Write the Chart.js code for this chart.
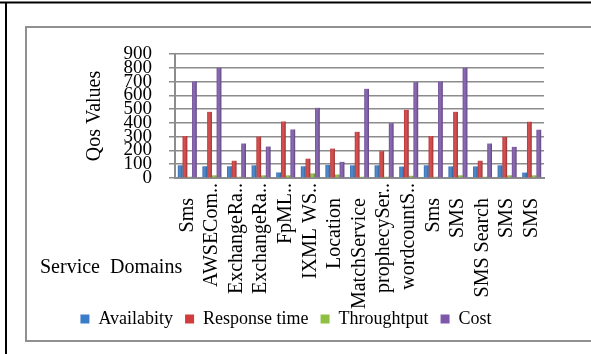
<!DOCTYPE html>
<html>
<head>
<meta charset="utf-8">
<script src="https://cdn.jsdelivr.net/npm/chart.js@4.4.1/dist/chart.umd.min.js"></script>
<style>
  html, body { margin: 0; padding: 0; background: #fff; }
</style>
</head>
<body>
<canvas id="QOSCHART" width="591" height="354"></canvas>
<script>
// categories and series
var domains = ['Sms', 'AWSECom..', 'ExchangeRa..', 'ExchangeRa..', 'FpML..', 'IXML WS..', 'Location',
    'MatchService', 'prophecySer..', 'wordcountS..', 'Sms', 'SMS', 'SMS Search', 'SMS', 'SMS'];
var availability = [92, 85, 85, 92, 40, 85, 95, 92, 92, 83, 92, 84, 84, 92, 39];
var responseTime = [305, 480, 125, 300, 410, 140, 213, 335, 195, 495, 305, 480, 125, 298, 408];
var throughput = [9, 19, 9, 19, 19, 33, 25, 9, 9, 16, 9, 19, 9, 19, 19];
var cost = [700, 800, 250, 228, 352, 509, 117, 647, 398, 696, 700, 800, 250, 226, 350];
var seriesNames = ['Availabity', 'Response time', 'Throughtput', 'Cost'];
var yTicks = { min: 0, max: 900, step: 100 };

var serif = '"Liberation Serif", "Times New Roman", serif';
Chart.defaults.font.family = serif;
Chart.defaults.color = '#000';

var gridGray = '#8c8c8c';

// page frame and the left-hand x axis title
var framePlugin = {
    id: 'framePlugin',
    beforeDraw: function (chart) {
        var c = chart.ctx;
        c.save();
        c.fillStyle = '#fff';
        c.fillRect(0, 0, chart.width, chart.height);
        c.strokeStyle = '#000';
        c.lineWidth = 2;
        c.beginPath();
        c.moveTo(0, 2.5);
        c.lineTo(chart.width, 2.5);
        c.moveTo(6, 2);
        c.lineTo(6, chart.height);
        c.stroke();
        c.strokeStyle = '#909090';
        c.lineWidth = 2;
        c.strokeRect(26, 27, chart.width + 20, 314);
        c.restore();
    },
    afterDraw: function (chart) {
        var c = chart.ctx;
        c.save();
        c.font = '20px ' + serif;
        c.fillStyle = '#000';
        c.textAlign = 'left';
        c.textBaseline = 'alphabetic';
        c.fillText('Service  Domains', 40, 273);
        c.restore();
    }
};

// excel-like shading across each bar (darker edges)
var shadePlugin = {
    id: 'shadePlugin',
    afterDatasetsDraw: function (chart) {
        var c = chart.ctx;
        c.save();
        chart.data.datasets.forEach(function (ds, i) {
            chart.getDatasetMeta(i).data.forEach(function (bar) {
                var p = bar.getProps(['x', 'y', 'base', 'width'], true);
                var left = p.x - p.width / 2;
                var g = c.createLinearGradient(left, 0, left + p.width, 0);
                g.addColorStop(0, 'rgba(0,0,0,0.12)');
                g.addColorStop(0.35, 'rgba(255,255,255,0.10)');
                g.addColorStop(1, 'rgba(0,0,0,0.28)');
                c.fillStyle = g;
                c.fillRect(left, p.y, p.width, p.base - p.y);
            });
        });
        c.restore();
    }
};

var ctx = document.getElementById('QOSCHART').getContext('2d');
var myChart = new Chart(ctx, {
    type: 'bar',
    data: {
        labels: domains,
        datasets: [{
            label: seriesNames[0],
            data: availability,
            backgroundColor: '#3a7cc8'
        }, {
            label: seriesNames[1],
            data: responseTime,
            backgroundColor: '#d23c3c'
        }, {
            label: seriesNames[2],
            data: throughput,
            backgroundColor: '#8fbf42'
        }, {
            label: seriesNames[3],
            data: cost,
            backgroundColor: '#7d58aa'
        }]
    },
    options: {
        responsive: false,
        animation: false,
        categoryPercentage: 0.77,
        barPercentage: 1,
        layout: {
            padding: { left: 28, right: 47, top: 54, bottom: 16 }
        },
        scales: {
            x: {
                afterFit: function (scale) {
                    scale.height = 120;
                    // long labels run down between the legend items, so don't clip them to the axis box
                    scale._computeLabelArea = function () { return undefined; };
                },
                grid: { display: false, drawTicks: false },
                border: { display: true, color: gridGray, width: 2 },
                ticks: {
                    autoSkip: false,
                    minRotation: 90,
                    maxRotation: 90,
                    padding: 5,
                    font: { family: serif, size: 20 },
                    // full names sit a little further from the axis than the cut ones
                    callback: function (value, index) {
                        var l = domains[index];
                        return l.endsWith('..') ? l : l + '   ';
                    }
                }
            },
            y: {
                min: yTicks.min,
                max: yTicks.max,
                afterFit: function (scale) { scale.width = 147; },
                grid: { color: gridGray, lineWidth: 1.5, tickLength: 6 },
                border: { color: gridGray, width: 2 },
                ticks: {
                    stepSize: yTicks.step,
                    autoSkip: false,
                    padding: 17,
                    font: { family: serif, size: 19 }
                },
                title: {
                    display: true,
                    text: 'Qos Values',
                    font: { family: serif, size: 20 },
                    padding: { top: 55, bottom: 16 }
                }
            }
        },
        plugins: {
            legend: {
                position: 'bottom',
                labels: {
                    boxWidth: 9,
                    boxHeight: 9,
                    padding: 12,
                    font: { family: serif, size: 18 }
                }
            },
            tooltip: { enabled: false }
        }
    },
    plugins: [framePlugin, shadePlugin]
});
</script>
</body>
</html>
